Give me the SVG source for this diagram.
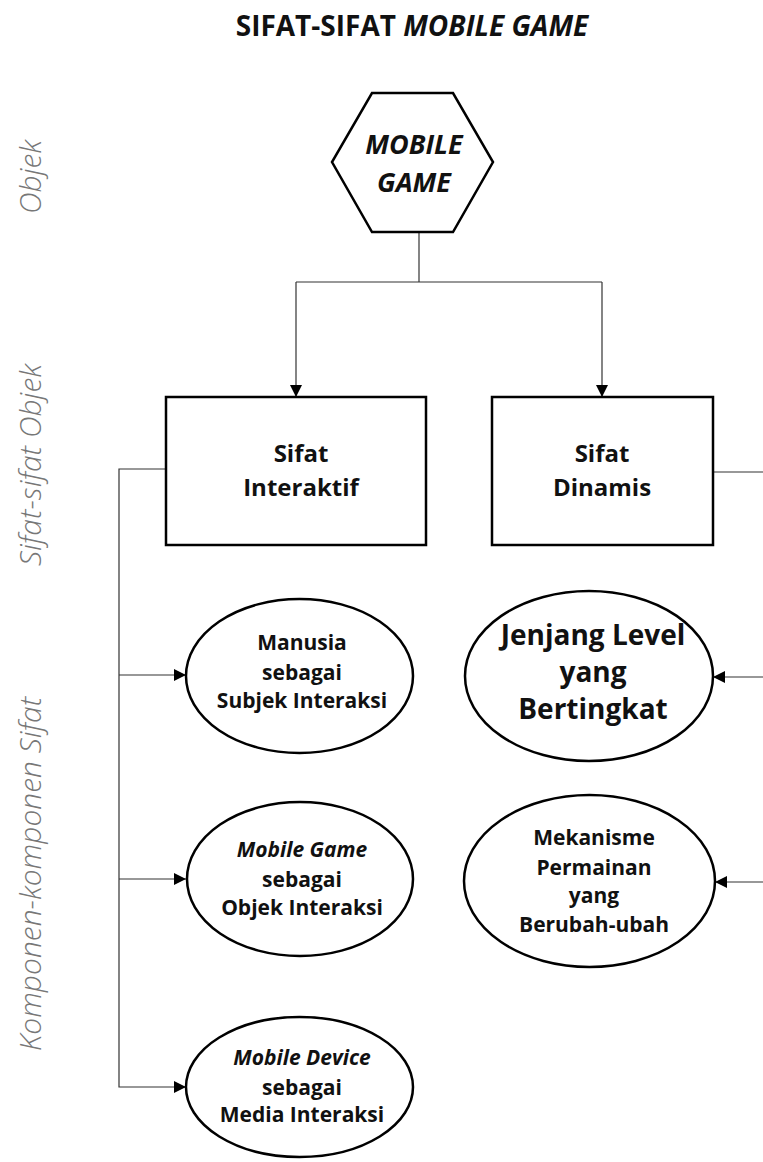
<svg xmlns="http://www.w3.org/2000/svg" width="763" height="1162" viewBox="0 0 763 1162">
<style>
.shape{fill:#fff;stroke:#000;stroke-width:2.5}
.conn{fill:none;stroke:#333;stroke-width:1.2}
.t{font-family:"Open Sans","Noto Sans","Liberation Sans",sans-serif;font-weight:bold;fill:#111;text-anchor:middle}
.e{font-size:21px}
.side{font-family:"Open Sans","Noto Sans","Liberation Sans",sans-serif;font-weight:300;font-style:italic;fill:#777;text-anchor:middle;font-size:30px}
</style>
<defs>
<marker id="arr" viewBox="0 0 12 12" refX="12" refY="6" markerWidth="12" markerHeight="12" markerUnits="userSpaceOnUse" orient="auto">
<path d="M0,0 L12,6 L0,12 z" fill="#000"/>
</marker>
</defs>
<rect width="763" height="1162" fill="#fff"/>
<text class="t" x="412" y="36" font-size="28">SIFAT-SIFAT <tspan font-style="italic">MOBILE GAME</tspan></text>
<g id="side-labels">
<text class="side" transform="translate(41,177) rotate(-90)">Objek</text>
<text class="side" transform="translate(41,465) rotate(-90)">Sifat-sifat Objek</text>
<text class="side" transform="translate(41,874) rotate(-90)">Komponen-komponen Sifat</text>
</g>
<g id="connectors">
<path class="conn" d="M419,232 V282"/>
<path class="conn" d="M296,282 H602"/>
<path class="conn" d="M296,282 V397" marker-end="url(#arr)"/>
<path class="conn" d="M602,282 V397" marker-end="url(#arr)"/>
<path class="conn" d="M166,469 H119 V1087 H186" marker-end="url(#arr)"/>
<path class="conn" d="M119,675 H186" marker-end="url(#arr)"/>
<path class="conn" d="M119,879 H186" marker-end="url(#arr)"/>
<path class="conn" d="M713,472 H763"/>
<path class="conn" d="M763,677 H713" marker-end="url(#arr)"/>
<path class="conn" d="M763,882 H715" marker-end="url(#arr)"/>
</g>
<g id="node-mobile-game">
<polygon class="shape" points="372,93 453,93 493,162 453,232 372,232 332,162"/>
<text class="t" font-style="italic" font-size="27" x="414" y="154">MOBILE</text>
<text class="t" font-style="italic" font-size="27" x="414" y="192">GAME</text>
</g>
<g id="node-sifat-interaktif">
<rect class="shape" x="166" y="397" width="260" height="148"/>
<text class="t" font-size="24" x="301" y="462">Sifat</text>
<text class="t" font-size="24" x="301" y="496">Interaktif</text>
</g>
<g id="node-sifat-dinamis">
<rect class="shape" x="492" y="397" width="221" height="148"/>
<text class="t" font-size="24" x="602" y="462">Sifat</text>
<text class="t" font-size="24" x="602" y="496">Dinamis</text>
</g>
<g id="node-manusia">
<ellipse class="shape" cx="299.5" cy="676" rx="113.5" ry="77"/>
<text class="t e" x="302" y="650">Manusia</text>
<text class="t e" x="302" y="680">sebagai</text>
<text class="t e" x="302" y="708">Subjek Interaksi</text>
</g>
<g id="node-jenjang">
<ellipse class="shape" cx="589" cy="676" rx="124" ry="85"/>
<text class="t" font-size="28" x="593" y="645">Jenjang Level</text>
<text class="t" font-size="28" x="593" y="682">yang</text>
<text class="t" font-size="28" x="593" y="719">Bertingkat</text>
</g>
<g id="node-mobile-game-obj">
<ellipse class="shape" cx="300" cy="879" rx="113" ry="77"/>
<text class="t e" x="302" y="857"><tspan font-style="italic">Mobile Game</tspan></text>
<text class="t e" x="302" y="887">sebagai</text>
<text class="t e" x="302" y="915">Objek Interaksi</text>
</g>
<g id="node-mekanisme">
<ellipse class="shape" cx="589.5" cy="881" rx="125.5" ry="86"/>
<text class="t e" x="594" y="845">Mekanisme</text>
<text class="t e" x="594" y="875">Permainan</text>
<text class="t e" x="594" y="903">yang</text>
<text class="t e" x="594" y="932">Berubah-ubah</text>
</g>
<g id="node-mobile-device">
<ellipse class="shape" cx="299.5" cy="1087" rx="113.5" ry="70"/>
<text class="t e" x="302" y="1065"><tspan font-style="italic">Mobile Device</tspan></text>
<text class="t e" x="302" y="1095">sebagai</text>
<text class="t e" x="302" y="1122">Media Interaksi</text>
</g>
</svg>
